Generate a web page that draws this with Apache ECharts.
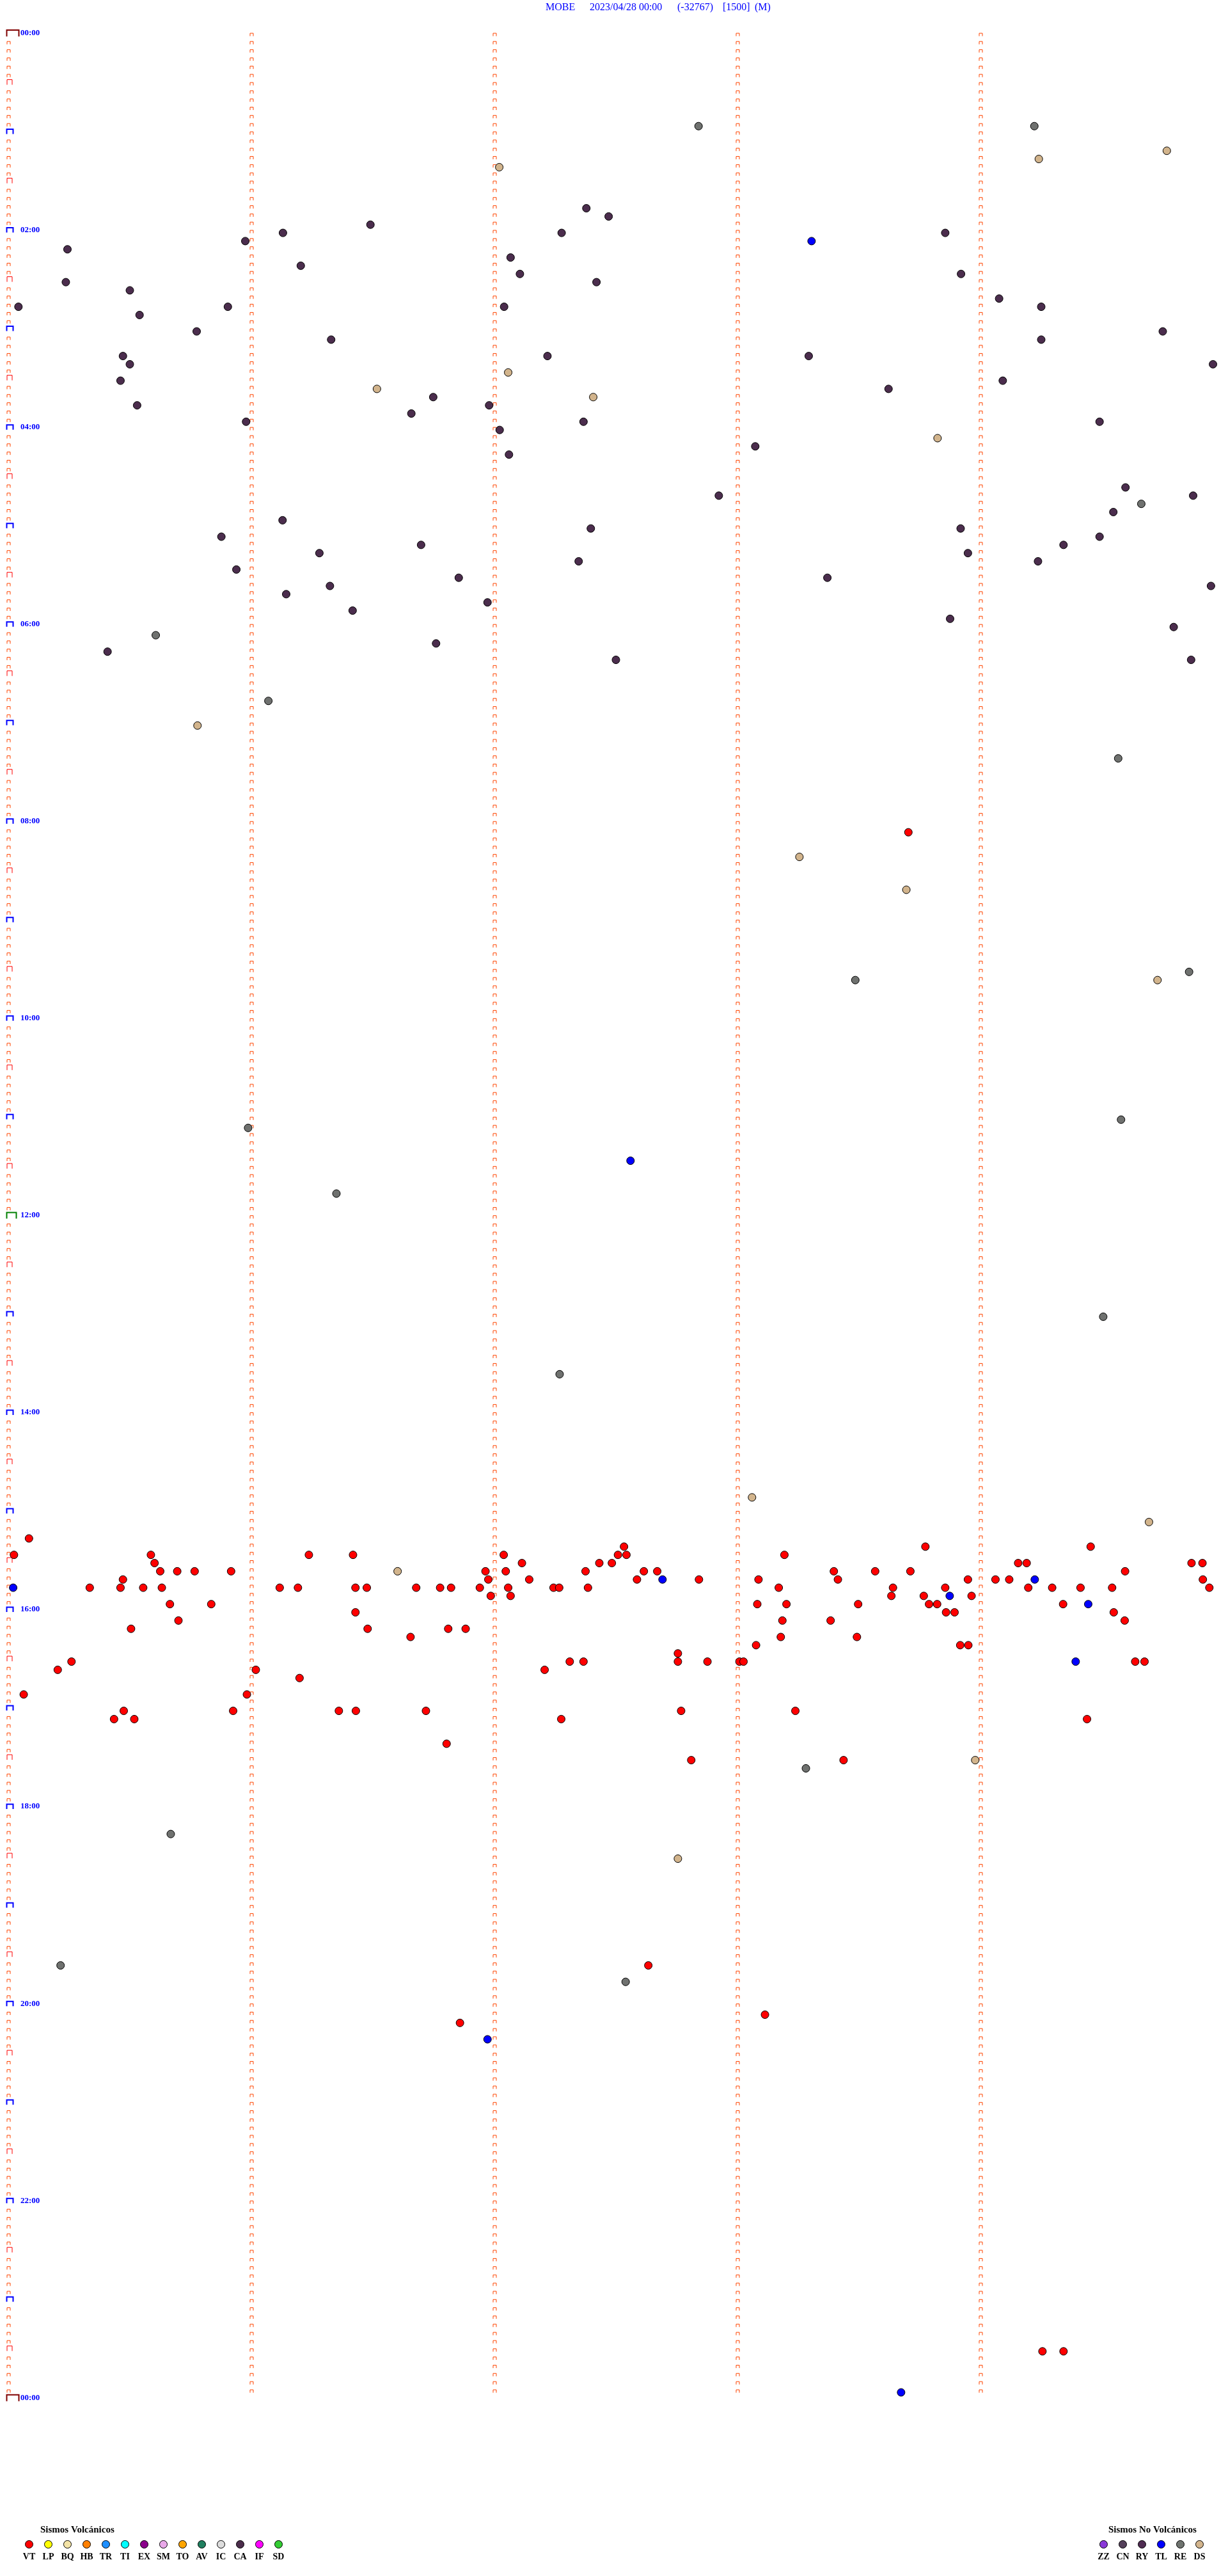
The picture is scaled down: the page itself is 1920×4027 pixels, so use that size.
<!DOCTYPE html>
<html>
<head>
<meta charset="utf-8">
<script src="https://cdn.jsdelivr.net/npm/echarts@6/dist/echarts.min.js"></script>
<style>
html,body{margin:0;padding:0;background:#fff;}
#chart{width:1920px;height:4027px;}
</style>
</head>
<body>
<div id="chart"></div>
<script>
// x = seconds inside the 5-minute row (0..300), y = row start, minutes of the day
const titleParts = ['MOBE', '2023/04/28 00:00', '(-32767)', '[1500]', '(M)'];

const caEvents = [
  [14.6,130],[58.5,125],[67.8,120],[89.4,115],[72.2,140],[142.7,105],[148.2,110],[136.6,120],
  [124.0,135],[126.3,145],[145.2,150],[14.2,150],[30.0,155],[2.5,165],[54.2,165],[32.4,170],
  [122.4,165],[46.5,180],[79.7,185],[28.3,195],[30.0,200],[133.1,195],[27.7,210],[104.9,220],
  [31.8,225],[118.7,225],[99.5,230],[58.7,235],[142.0,235],[121.3,240],[123.6,255],
  [231.3,120],[235.2,145],[244.6,160],[255.0,165],[285.0,180],[255.0,185],[297.4,200],[197.6,195],
  [217.3,215],[245.5,210],[269.4,235],[184.4,250],
  [67.7,295],[52.6,305],[143.8,300],[101.9,310],[76.8,315],[140.8,320],[56.3,325],[111.2,330],
  [79.4,335],[68.6,340],[118.3,345],[85.0,350],[105.6,370],[150.0,380],[24.5,375],
  [175.4,280],[235.1,300],[236.9,315],[202.2,330],[232.5,355],[275.8,275],[292.5,280],[272.8,290],
  [269.4,305],[260.5,310],[254.2,320],[296.9,335],[287.7,360],[292.0,380]
];

const reEvents = [
  [170.4,55],[253.3,55],[279.7,285],[36.4,365],[64.2,405],[274.0,440],[209.1,575],[291.5,570],
  [59.2,665],[274.7,660],[81.0,705],[270.3,780],[136.1,815],[196.9,1055],[40.1,1095],[12.9,1175],
  [152.4,1185]
];

const dsEvents = [
  [121.2,80],[286.0,70],[254.4,75],[123.4,205],[91.0,215],[144.4,220],[229.4,245],[46.7,420],
  [195.3,500],[221.7,520],[283.7,575],[183.6,890],[281.6,905],[96.1,935],[238.7,1050],[165.3,1110]
];

const tlEvents = [
  [198.3,125],[153.6,685],[1.2,945],[161.5,940],[232.4,950],[253.4,940],[266.6,955],[263.5,990],
  [118.3,1220],[220.4,1435]
];

const vtEvents = [
  [222.2,485],
  [5.1,915],[1.4,925],[35.2,925],[36.1,930],[37.5,935],[41.7,935],[46.0,935],[55.0,935],[28.3,940],
  [20.1,945],[27.7,945],[33.3,945],[37.9,945],[39.9,955],[50.1,955],[42.0,965],[30.3,970],[15.6,990],
  [12.2,995],[3.8,1010],[28.5,1020],[26.1,1025],[31.1,1025],[55.5,1020],
  [74.2,925],[85.1,925],[67.0,945],[71.5,945],[85.7,945],[88.5,945],[100.7,945],[106.6,945],
  [109.3,945],[116.4,945],[117.8,935],[118.5,940],[119.1,950],[85.7,960],[88.7,970],[99.3,975],
  [108.6,970],[112.9,970],[61.1,995],[58.9,1010],[71.9,1000],[81.6,1020],[85.8,1020],[103.1,1020],
  [108.2,1040],
  [122.3,925],[126.8,930],[122.8,935],[128.6,940],[123.4,945],[124.0,950],[134.6,945],[136.0,945],
  [143.1,945],[142.5,935],[145.9,930],[149.0,930],[138.6,990],[142.0,990],[132.4,995],[136.5,1025],
  [152.0,920],[150.5,925],[152.6,925],[156.9,935],[160.2,935],[155.2,940],[170.5,940],[191.6,925],
  [185.2,940],[190.2,945],[184.9,955],[192.1,955],[191.1,965],[190.7,975],[184.6,980],[165.3,985],
  [165.3,990],[172.6,990],[180.5,990],[181.5,990],[166.1,1020],[194.3,1020],[203.8,935],[204.8,940],
  [214.0,935],[222.7,935],[226.4,920],[218.4,945],[218.0,950],[209.8,955],[203.0,965],[209.5,975],
  [226.0,950],[231.3,945],[227.3,955],[229.3,955],[231.5,960],[233.6,960],[237.8,950],[236.9,940],
  [235.0,980],[237.0,980],
  [243.7,940],[247.1,940],[249.3,930],[251.4,930],[251.8,945],[257.7,945],[264.7,945],[272.5,945],
  [267.2,920],[275.7,935],[260.4,955],[272.9,960],[275.6,965],[292.1,930],[294.8,930],[294.9,940],
  [296.5,945],[278.2,990],[280.5,990],[266.3,1025],
  [206.2,1050],[168.6,1050],[158.0,1175],[186.8,1205],[111.5,1210],[255.3,1410],[260.5,1410]
];

const volcanicTypes = ['VT','LP','BQ','HB','TR','TI','EX','SM','TO','AV','IC','CA','IF','SD'];
const volcanicColors = ['#ff0000','#ffff00','#f3e3a6','#ff8000','#1e8fff','#00ffff','#8b008b','#e8a8e8','#ffa500','#207f5f','#dcdcdc','#4b2d4b','#ff00ff','#33cc33'];
const nonVolcanicTypes = ['ZZ','CN','RY','TL','RE','DS'];
const nonVolcanicColors = ['#8a38d8','#54405a','#4f2c52','#0000ff','#6f736f','#d2b48c'];

const rowMinutes = [];            // one tick per 5-minute row
for (let m = 0; m <= 1440; m += 5) rowMinutes.push(m);
const columnSeconds = [0, 60, 120, 180, 240];
const yLabelStep = 120;

const tickData = [];
columnSeconds.forEach(function (c) {
  rowMinutes.forEach(function (m) {
    if (c > 0 && m === 1440) return;
    tickData.push([c, m]);
  });
});

function renderTick(params, api) {
  const c = api.value(0), m = api.value(1);
  const p = api.coord([c, m]);
  const x = Math.round(p[0]) + 0.5, y = p[1];
  let pts, stroke = '#ff4500', lw = 1;
  if (c === 0 && (m === 0 || m === 1440)) {
    pts = [[x - 3, y + 5.5], [x - 3, y - 4.5], [x + 16, y - 4.5], [x + 16, y + 5.5]];
    stroke = '#800000'; lw = 2;
  } else if (c === 0 && m === 720) {
    pts = [[x - 3, y + 5], [x - 3, y - 4.5], [x + 12, y - 4.5], [x + 12, y + 5]];
    stroke = '#008000'; lw = 2;
  } else if (c === 0 && m % 60 === 0) {
    pts = [[x - 3, y + 4], [x - 3, y - 3.5], [x + 7, y - 3.5], [x + 7, y + 4]];
    stroke = '#0000ff'; lw = 2;
  } else if (c === 0 && m % 30 === 0) {
    pts = [[x - 2.5, y + 4], [x - 2.5, y - 4], [x + 5.5, y - 4], [x + 5.5, y + 4]];
    stroke = '#ff0000'; lw = 1;
  } else {
    pts = [[x - 2.5, y + 5], [x - 2.5, y + 0.5], [x + 2.5, y + 0.5], [x + 2.5, y + 5]];
  }
  return {
    type: 'polyline',
    shape: { points: pts },
    style: { stroke: stroke, lineWidth: lw, fill: null }
  };
}

function scatterSeries(name, data, color) {
  return {
    name: name,
    type: 'scatter',
    data: data,
    symbol: 'circle',
    symbolSize: 12,
    symbolOffset: [0, 4.5],
    itemStyle: { color: color, borderColor: '#000', borderWidth: 1, opacity: 1 },
    z: 5,
    silent: true
  };
}

const serif = 'Liberation Serif, Times New Roman, serif';
const titleX = [853, 922, 1059, 1130, 1180];
const graphics = [];
titleParts.forEach(function (t, i) {
  graphics.push({
    type: 'text', left: titleX[i], top: 4,
    style: { text: t, fill: '#0000ff', font: '16px ' + serif }
  });
});
graphics.push({ type: 'text', left: 63, top: 3948,
  style: { text: 'Sismos Volcánicos', fill: '#000', font: 'bold 15px ' + serif } });
graphics.push({ type: 'text', left: 1733, top: 3948,
  style: { text: 'Sismos No Volcánicos', fill: '#000', font: 'bold 15px ' + serif } });
function legendRow(types, colors, x0) {
  types.forEach(function (t, i) {
    const cx = x0 + i * 30;
    graphics.push({ type: 'circle', shape: { cx: cx, cy: 3977.5, r: 6 },
      style: { fill: colors[i], stroke: '#000', lineWidth: 1 } });
    graphics.push({ type: 'text', x: cx, y: 3997,
      style: { text: t, fill: '#000', font: 'bold 14px ' + serif, align: 'center', verticalAlign: 'middle' } });
  });
}
legendRow(volcanicTypes, volcanicColors, 45.5);
legendRow(nonVolcanicTypes, nonVolcanicColors, 1725.5);

const chart = echarts.init(document.getElementById('chart'), null, { renderer: 'canvas' });
chart.setOption({
  animation: false,
  backgroundColor: '#ffffff',
  grid: { left: 13, right: 7, top: 51.5, height: 3696.8, containLabel: false },
  xAxis: {
    type: 'value', min: 0, max: 300,
    show: false
  },
  yAxis: {
    type: 'value', min: 0, max: 1440, interval: yLabelStep, inverse: true,
    axisLine: { show: false }, axisTick: { show: false }, splitLine: { show: false },
    axisLabel: {
      inside: true, margin: 19, color: '#0000ff',
      fontFamily: 'Liberation Serif', fontWeight: 'bold', fontSize: 13,
      verticalAlign: 'middle',
      formatter: function (v) {
        const h = Math.floor(v / 60) % 24;
        return (h < 10 ? '0' : '') + h + ':00';
      }
    }
  },
  graphic: graphics,
  series: [
    { type: 'custom', data: tickData, renderItem: renderTick, clip: false, silent: true, z: 1 },
    scatterSeries('CA', caEvents, '#4b2d4d'),
    scatterSeries('RE', reEvents, '#6f716f'),
    scatterSeries('DS', dsEvents, '#d2b48c'),
    scatterSeries('TL', tlEvents, '#0000ff'),
    scatterSeries('VT', vtEvents, '#ff0000')
  ]
});
</script>
</body>
</html>
